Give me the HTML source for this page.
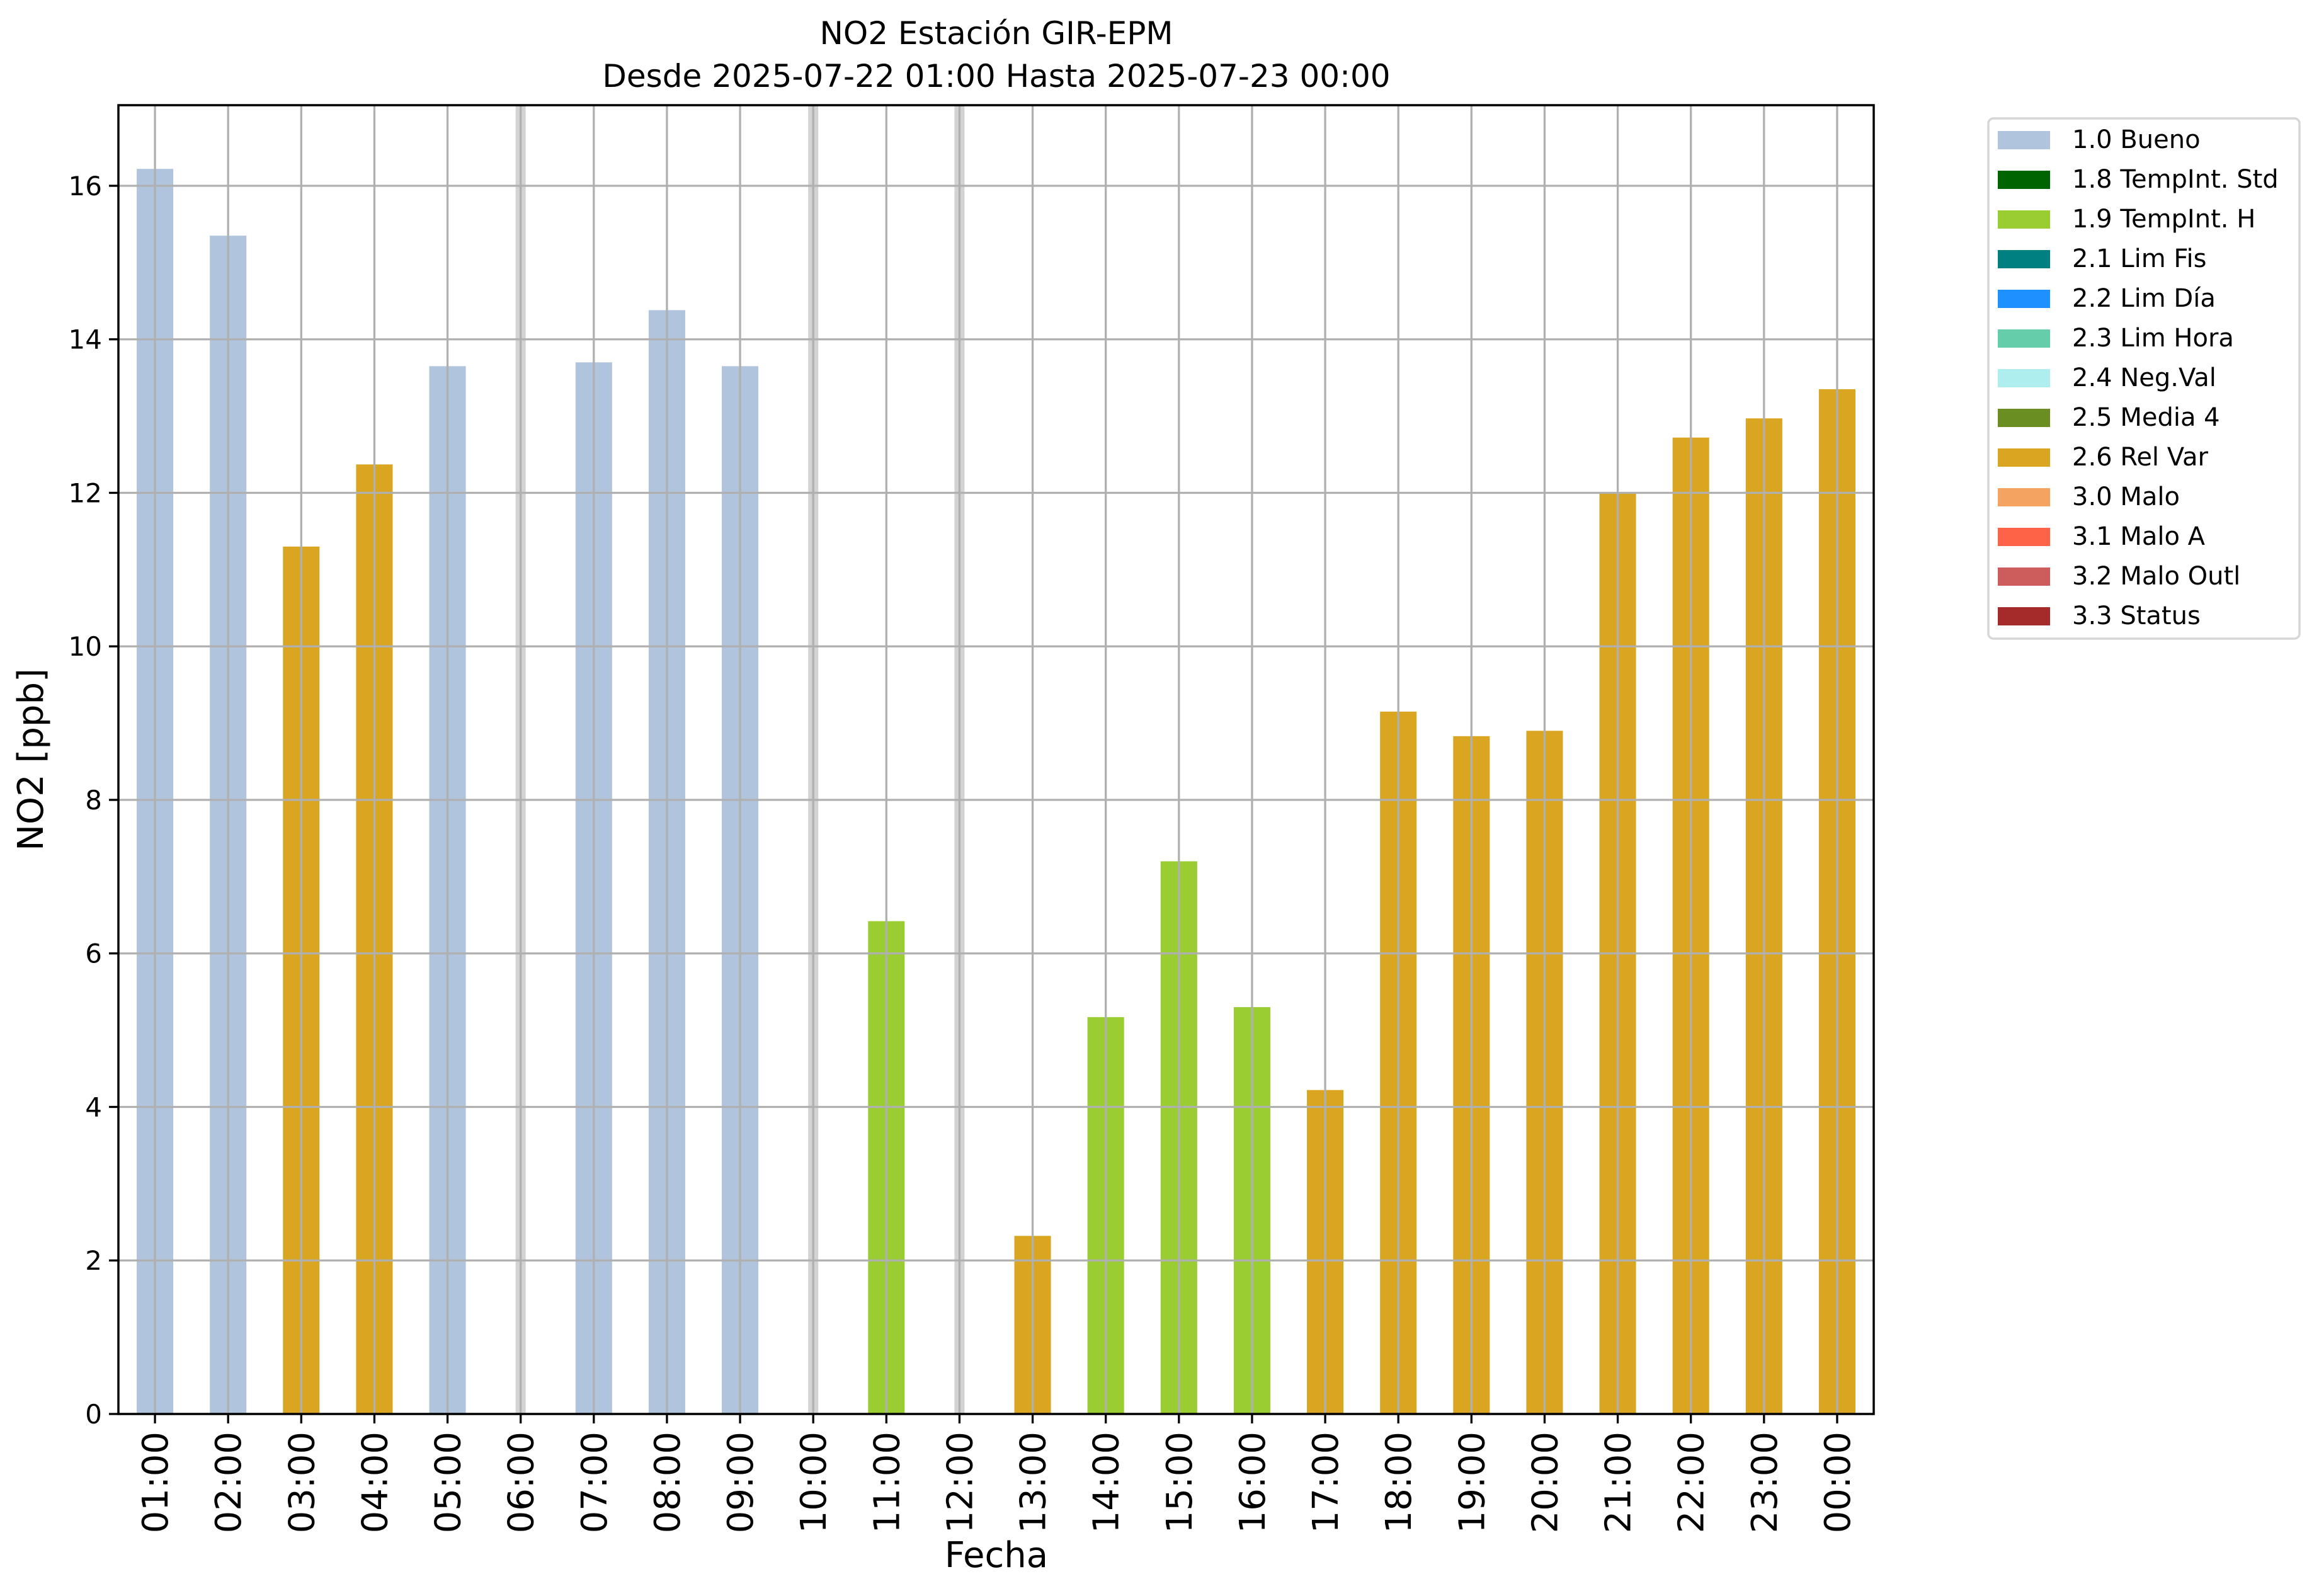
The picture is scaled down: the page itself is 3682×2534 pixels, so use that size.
<!DOCTYPE html>
<html><head><meta charset="utf-8"><style>
html,body{margin:0;padding:0;background:#fff}
svg{display:block;font-family:"DejaVu Sans","Liberation Sans",sans-serif}
</style></head><body>
<svg id="chart" width="3682" height="2534" viewBox="0 0 3682 2534" xmlns="http://www.w3.org/2000/svg">
<rect width="3682" height="2534" fill="#fff"/>
<text x="1582" y="70" font-size="50" text-anchor="middle">NO2 Estación GIR-EPM</text>
<text x="1582" y="138" font-size="50" text-anchor="middle">Desde 2025-07-22 01:00 Hasta 2025-07-23 00:00</text>
<g id="plot"></g>
<text x="1582" y="2488" font-size="56" text-anchor="middle">Fecha</text>
<text transform="translate(68,1206) rotate(-90)" font-size="56" text-anchor="middle">NO2 [ppb]</text>
<g id="legend"></g>
</svg>
<script>
const categories = ["01:00","02:00","03:00","04:00","05:00","06:00","07:00","08:00","09:00","10:00","11:00","12:00","13:00","14:00","15:00","16:00","17:00","18:00","19:00","20:00","21:00","22:00","23:00","00:00"];
const values = [16.22,15.35,11.3,12.37,13.65,null,13.7,14.38,13.65,null,6.42,null,2.32,5.17,7.2,5.3,4.22,9.15,8.83,8.9,12.0,12.72,12.97,13.35];
const flags = ["1.0","1.0","2.6","2.6","1.0",null,"1.0","1.0","1.0",null,"1.9",null,"2.6","1.9","1.9","1.9","2.6","2.6","2.6","2.6","2.6","2.6","2.6","2.6"];
const yTicks = [0,2,4,6,8,10,12,14,16];
const legendLabels = ["1.0 Bueno","1.8 TempInt. Std","1.9 TempInt. H","2.1 Lim Fis","2.2 Lim Día","2.3 Lim Hora","2.4 Neg.Val","2.5 Media 4","2.6 Rel Var","3.0 Malo","3.1 Malo A","3.2 Malo Outl","3.3 Status"];
const legendColors = ["#b0c4de","#006400","#9acd32","#008080","#1e90ff","#66cdaa","#afeeee","#6b8e23","#daa520","#f4a460","#ff6347","#cd5c5c","#a52a2a"];

const NS="http://www.w3.org/2000/svg";
const L=188,R=2975,T=167,B=2245,YMAX=17.05;
const n=categories.length, step=(R-L)/n;
const xs=i=>L+step*(i+0.5);
const ys=v=>B-(v/YMAX)*(B-T);
function mk(tag,attrs,parent){const e=document.createElementNS(NS,tag);for(const k in attrs)e.setAttribute(k,attrs[k]);parent.appendChild(e);return e;}
const plot=document.getElementById('plot');
const colorOf=f=>legendColors[legendLabels.findIndex(l=>l.startsWith(f))];

// missing bands
categories.forEach((c,i)=>{if(values[i]===null){const r=mk('rect',{x:xs(i)-8,y:T,width:16,height:B-T,fill:'#d3d3d3'},plot);

}});
// bars
categories.forEach((c,i)=>{if(values[i]!==null){const r=mk('rect',{x:xs(i)-step*0.25,y:ys(values[i]),width:step*0.5,height:B-ys(values[i]),fill:colorOf(flags[i])},plot);

}});
// grid
yTicks.forEach(t=>{const g=mk('line',{x1:L,x2:R,y1:ys(t),y2:ys(t),stroke:'#b0b0b0','stroke-width':3.3},plot);

});
categories.forEach((c,i)=>{const g=mk('line',{x1:xs(i),x2:xs(i),y1:T,y2:B,stroke:'#b0b0b0','stroke-width':3.3},plot);

});
// frame
const fr=mk('rect',{x:L,y:T,width:R-L,height:B-T,fill:'none',stroke:'#000','stroke-width':3.5},plot);


// y ticks
yTicks.forEach(t=>{mk('line',{x1:L-15,x2:L,y1:ys(t),y2:ys(t),stroke:'#000','stroke-width':3.3},plot);
const tx=mk('text',{x:L-26,y:ys(t)+15,'font-size':42,'text-anchor':'end'},plot);tx.textContent=t;

});
// x ticks
categories.forEach((c,i)=>{mk('line',{x1:xs(i),x2:xs(i),y1:B,y2:B+15,stroke:'#000','stroke-width':3.3},plot);
const tx=mk('text',{transform:`translate(${xs(i)+20},${B+28}) rotate(-90)`,'font-size':56,'text-anchor':'end'},plot);tx.textContent=c;

});
// legend
const lg=document.getElementById('legend');
mk('rect',{x:3157,y:188,width:494,height:826,rx:8,fill:'#fff',stroke:'#d6d6d6','stroke-width':3.5},lg);
legendLabels.forEach((l,i)=>{const y=221+i*63;
const e=mk('g',{},lg);


mk('rect',{x:3172,y:y-13,width:83,height:29,fill:legendColors[i]},e);
const t=mk('text',{x:3290,y:y+14,'font-size':40},e);t.textContent=l;});
</script>
</body></html>
